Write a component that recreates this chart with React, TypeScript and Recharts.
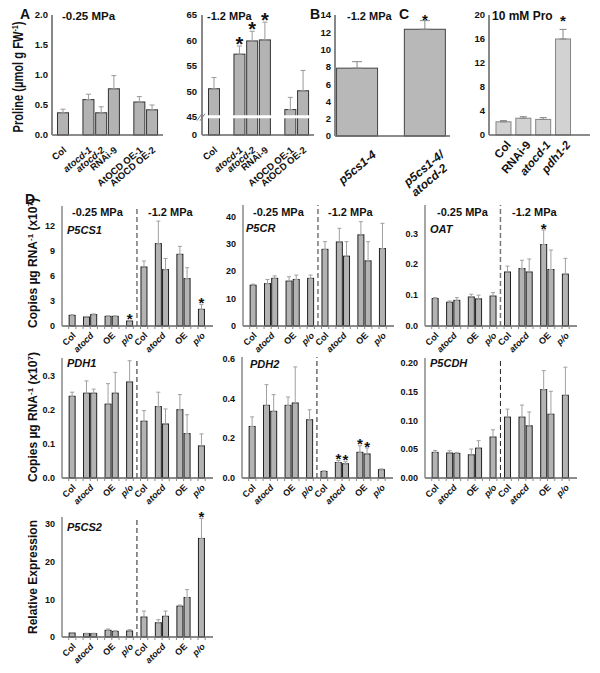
import React from 'react';
import { BarChart, Bar, XAxis, YAxis, ErrorBar, ReferenceLine } from 'recharts';

const FONT = '"Liberation Sans", Arial, Helvetica, sans-serif';

// ---------------- DATA ----------------
// Panel A: proline content (µmol g FW-1)
const aCategories = ['Col', 'atocd-1', 'atocd-2', 'RNAi-9', 'AtOCD OE-1', 'AtOCD OE-2'];
const aItalic = [false, true, true, false, false, false];
const aGapAfter = [0, 3];
const aLowMean = [0.37, 0.59, 0.37, 0.77, 0.55, 0.42];
const aLowErr = [0.06, 0.09, 0.1, 0.22, 0.09, 0.08];
const aLowSig = [false, false, false, false, false, false];
const aLowTicks = [0, 0.5, 1, 1.5, 2];
const aHighMean = [50.5, 57.3, 59.9, 60.1, 46.4, 50.1];
const aHighErr = [2.2, 1.6, 1.9, 3.5, 2.4, 4.0];
const aHighSig = [false, true, true, true, false, false];
const aHighFloor = 41.4; // broken axis: bottom of axis labelled "0"
const aHighTicks = [aHighFloor, 45, 50, 55, 60, 65];

// Panel B
const bCategories = ['p5cs1-4', 'p5cs1-4/\natocd-2'];
const bMean = [7.85, 12.35];
const bErr = [0.75, 1.0];
const bSig = [false, true];
const bTicks = [0, 2, 4, 6, 8, 10, 12, 14];

// Panel C
const cCategories = ['Col', 'RNAi-9', 'atocd-1', 'pdh1-2'];
const cItalic = [false, false, true, true];
const cMean = [2.2, 2.8, 2.6, 16.0];
const cErr = [0.2, 0.25, 0.3, 1.6];
const cSig = [false, false, false, true];
const cTicks = [0, 4, 8, 12, 16, 20];

// Panel D: expression, -0.25 MPa then -1.2 MPa
const dConditions = ['-0.25 MPa', '-1.2 MPa'];
const dGenotypes = ['Col', 'atocd-1', 'atocd-2', 'OE-1', 'OE-2', 'p/o'];
const dTickLabels = ['Col', 'atocd', '', 'OE', '', 'p/o'];
const dTickItalic = [false, true, false, false, false, true];
const dTickShift = [0, 0.5, 0, 0.5, 0, 0];
const dSlotOrder: (number | null)[] = [0, null, 1, 2, null, 3, 4, null, 5];

const p5cs1Mean = [1.28, 1.08, 1.37, 1.16, 1.16, 0.6, 7.08, 9.89, 6.77, 8.6, 5.69, 2.0];
const p5cs1Err = [0.07, 0.07, 0.08, 0.06, 0.04, 0.05, 0.72, 2.7, 1.33, 0.96, 1.31, 0.57];
const p5cs1Sig = [5, 11];

const p5crMean = [14.9, 15.5, 17.4, 16.4, 17.0, 17.4, 28.0, 30.7, 25.5, 33.3, 23.8, 28.3];
const p5crErr = [0.4, 1.5, 0.9, 1.6, 1.6, 1.2, 2.8, 5.0, 5.3, 4.8, 7.0, 9.2];
const p5crSig: number[] = [];

const oatMean = [0.089, 0.077, 0.083, 0.094, 0.088, 0.097, 0.175, 0.186, 0.175, 0.264, 0.183, 0.168];
const oatErr = [0.003, 0.004, 0.009, 0.009, 0.012, 0.011, 0.019, 0.027, 0.042, 0.047, 0.063, 0.051];
const oatSig = [9];

const pdh1Mean = [0.239, 0.248, 0.248, 0.216, 0.248, 0.281, 0.166, 0.209, 0.158, 0.2, 0.13, 0.094];
const pdh1Err = [0.012, 0.036, 0.012, 0.06, 0.061, 0.062, 0.031, 0.042, 0.044, 0.044, 0.055, 0.035];
const pdh1Sig: number[] = [];

const pdh2Mean = [0.259, 0.365, 0.335, 0.365, 0.377, 0.293, 0.033, 0.078, 0.072, 0.129, 0.121, 0.042];
const pdh2Err = [0.048, 0.104, 0.084, 0.042, 0.181, 0.05, 0.003, 0.01, 0.01, 0.033, 0.03, 0.004];
const pdh2Sig = [7, 8, 9, 10];

const p5cdhMean = [0.0446, 0.0435, 0.0428, 0.0405, 0.052, 0.0713, 0.106, 0.106, 0.091, 0.154, 0.111, 0.144];
const p5cdhErr = [0.0034, 0.004, 0.0018, 0.01, 0.013, 0.0127, 0.014, 0.021, 0.024, 0.033, 0.04, 0.049];
const p5cdhSig: number[] = [];

const p5cs2Mean = [1.06, 0.9, 0.9, 1.78, 1.5, 1.6, 5.3, 3.8, 5.5, 8.2, 10.5, 26.2];
const p5cs2Err = [0.15, 0.1, 0.1, 0.35, 0.15, 0.35, 1.6, 0.8, 1.4, 0.3, 2.1, 5.3];
const p5cs2Sig = [11];

// ---------------- TABLE BUILDERS ----------------
type Row = { id: string; label?: string; italic?: boolean; shift?: number; v: number | null; e: [number, number] | null; sig?: boolean };

function buildA(mean: number[], err: number[], sig: boolean[]): Row[] {
  const rows: Row[] = [];
  aCategories.forEach((c, i) => {
    rows.push({ id: c, label: c, italic: aItalic[i], v: mean[i], e: [0, err[i]], sig: sig[i] });
    if (aGapAfter.includes(i)) rows.push({ id: `gap${i}`, v: null, e: null });
  });
  return rows;
}

function buildSimple(cats: string[], mean: number[], err: number[], sig: boolean[], italic: boolean[]): Row[] {
  return cats.map((c, i) => ({ id: c, label: c, italic: italic[i], v: mean[i], e: [0, err[i]] as [number, number], sig: sig[i] }));
}

function buildD(mean: number[], err: number[], sigIdx: number[]): Row[] {
  const rows: Row[] = [];
  dConditions.forEach((cond, c) => {
    if (c > 0) rows.push({ id: 'divider', v: null, e: null });
    dSlotOrder.forEach((g, s) => {
      if (g === null) {
        rows.push({ id: `gap-${c}-${s}`, v: null, e: null });
        return;
      }
      const i = c * dGenotypes.length + g;
      rows.push({
        id: `${cond}|${dGenotypes[g]}`,
        label: dTickLabels[g],
        italic: dTickItalic[g],
        shift: dTickShift[g],
        v: mean[i],
        e: [0, err[i]],
        sig: sigIdx.includes(i),
      });
    });
  });
  return rows;
}

// ---------------- TICKS ----------------
type TickOpts = { dx: number; dy: number; angle: number; size: number; slot?: number; line2dx?: number };

const makeXTick = (data: Row[], o: TickOpts) => (props: any) => {
  const { x, y, payload } = props;
  const row = data.find((r) => r.id === payload.value);
  const els: React.ReactNode[] = [];
  if (o.slot) {
    els.push(<line key="m" x1={x - o.slot / 2} x2={x - o.slot / 2} y1={y} y2={y + 3} stroke="#888" strokeWidth={1} />);
    if (data.length && data[data.length - 1].id === payload.value) {
      els.push(<line key="m2" x1={x + o.slot / 2} x2={x + o.slot / 2} y1={y} y2={y + 3} stroke="#888" strokeWidth={1} />);
    }
  }
  if (row && row.label) {
    const sx = (row.shift || 0) * (o.slot || 0);
    const lines = row.label.split('\n');
    els.push(
      <text
        key="t"
        transform={`translate(${x + sx + o.dx},${y + o.dy}) rotate(${o.angle})`}
        textAnchor="end"
        fontSize={o.size}
        fontWeight="bold"
        fontStyle={row.italic ? 'italic' : 'normal'}
        fontFamily={FONT}
        fill="#111"
      >
        {lines.map((ln, i) => (
          <tspan key={i} x={i ? o.line2dx || 0 : 0} dy={i ? '1.05em' : 0}>
            {ln}
          </tspan>
        ))}
      </text>
    );
  }
  return <g>{els}</g>;
};

const aHighYTick = (props: any) => {
  const { x, y, payload } = props;
  const v = payload.value;
  const label = v < 45 ? '0' : String(v);
  return (
    <g>
      <text x={x} y={y} dy="0.35em" textAnchor="end" fontSize={9.5} fontWeight="bold" fontFamily={FONT} fill="#111">
        {label}
      </text>
      {v === 45 ? (
        <g stroke="#777" strokeWidth={1}>
          <line x1={x + 0} y1={y + 4} x2={x + 5} y2={y - 3} />
          <line x1={x + 3} y1={y + 4} x2={x + 8} y2={y - 3} />
        </g>
      ) : null}
    </g>
  );
};

// ---------------- PANEL ----------------
type PanelProps = {
  rect: [number, number, number, number];
  data: Row[];
  domain: [number, number];
  ticks: number[];
  yFmt?: (v: number) => string;
  yTick?: any;
  ySize?: number;
  yMargin?: number;
  xTick: any;
  xPad: [number, number];
  gap: string;
  fill: string;
  stroke: string;
  errStroke: string;
  errHalf: number;
  starSize: number;
  starDy: number;
  yAxisStroke?: string;
  yAxisWidth?: number;
  children?: React.ReactNode;
};

function Panel(p: PanelProps) {
  const [x0, y0, x1, y1] = p.rect;
  const YW = 50;
  const TOP = 12;
  const RIGHT = 30;
  const XH = 70;
  const base = p.domain[0];
  const shape = (props: any) => {
    const { x, y, width, height, payload } = props;
    if (!payload || payload.v == null || !(height > 0)) return <g />;
    const ratio = height / (payload.v - base);
    const errTop = y - (payload.e ? payload.e[1] : 0) * ratio;
    return (
      <g>
        <rect x={x} y={y} width={width} height={height} fill={p.fill} stroke={p.stroke} strokeWidth={1} />
        {payload.sig ? (
          <text x={x + width / 2} y={errTop + p.starDy} textAnchor="middle" fontSize={p.starSize} fontWeight="bold" fontFamily={FONT} fill="#111">
            *
          </text>
        ) : null}
      </g>
    );
  };
  return (
    <div style={{ position: 'absolute', left: x0 - YW, top: y0 - TOP }}>
      <BarChart
        width={x1 - x0 + YW + RIGHT}
        height={y1 - y0 + TOP + XH}
        data={p.data}
        margin={{ top: TOP, right: RIGHT, bottom: 0, left: 0 }}
        barCategoryGap={p.gap}
        style={{ overflow: 'visible' }}
      >
        <XAxis
          dataKey="id"
          height={XH}
          interval={0}
          tick={p.xTick}
          tickLine={false}
          tickSize={0}
          tickMargin={0}
          axisLine={{ stroke: '#666', strokeWidth: 1.5 }}
          padding={{ left: p.xPad[0], right: p.xPad[1] }}
        />
        <YAxis
          type="number"
          width={YW}
          domain={p.domain}
          ticks={p.ticks}
          interval={0}
          tickLine={false}
          tickSize={0}
          tickMargin={p.yMargin ?? 6}
          tick={p.yTick || { fontSize: p.ySize || 9, fontWeight: 'bold', fill: '#111', fontFamily: FONT }}
          tickFormatter={p.yFmt}
          axisLine={{ stroke: p.yAxisStroke || '#888', strokeWidth: p.yAxisWidth || 1.5 }}
        />
        <Bar dataKey="v" isAnimationActive={false} shape={shape}>
          <ErrorBar dataKey="e" direction="y" width={p.errHalf} stroke={p.errStroke} strokeWidth={1} />
        </Bar>
        {p.children}
      </BarChart>
    </div>
  );
}

// ---------------- D PANELS ----------------
const D_SLOT = 7.18;
const dTick = (data: Row[]) => makeXTick(data, { dx: 4, dy: 10, angle: -45, size: 9, slot: D_SLOT });

type DCfg = { name: string; rect: [number, number, number, number]; domain: [number, number]; ticks: number[]; fmt?: (v: number) => string; data: Row[]; dash: string; dashW: number };

const dPanels: DCfg[] = [
  { name: 'P5CS1', rect: [62, 206, 213, 326], domain: [0, 14.4], ticks: [0, 3, 6, 9, 12], data: buildD(p5cs1Mean, p5cs1Err, p5cs1Sig), dash: '#777', dashW: 1.5 },
  { name: 'P5CR', rect: [243, 205, 394, 326], domain: [0, 44.2], ticks: [0, 10, 20, 30, 40], data: buildD(p5crMean, p5crErr, p5crSig), dash: '#777', dashW: 1.5 },
  { name: 'OAT', rect: [425, 205, 577, 326], domain: [0, 0.392], ticks: [0, 0.1, 0.2, 0.3], fmt: (v) => v.toFixed(1), data: buildD(oatMean, oatErr, oatSig), dash: '#777', dashW: 1.5 },
  { name: 'PDH1', rect: [62, 358, 213, 478], domain: [0, 0.351], ticks: [0, 0.1, 0.2, 0.3], fmt: (v) => v.toFixed(1), data: buildD(pdh1Mean, pdh1Err, pdh1Sig), dash: '#222', dashW: 1 },
  { name: 'PDH2', rect: [242, 357, 393, 478], domain: [0, 0.608], ticks: [0, 0.2, 0.4, 0.6], fmt: (v) => v.toFixed(1), data: buildD(pdh2Mean, pdh2Err, pdh2Sig), dash: '#222', dashW: 1 },
  { name: 'P5CDH', rect: [425, 358, 577, 478], domain: [0, 0.209], ticks: [0, 0.05, 0.1, 0.15, 0.2], fmt: (v) => v.toFixed(2), data: buildD(p5cdhMean, p5cdhErr, p5cdhSig), dash: '#222', dashW: 1 },
  { name: 'P5CS2', rect: [62, 517, 213, 637], domain: [0, 31.9], ticks: [0, 10, 20, 30], data: buildD(p5cs2Mean, p5cs2Err, p5cs2Sig), dash: '#222', dashW: 1 },
];

const geneLabelPos: Record<string, [number, number]> = {
  P5CS1: [67, 233.5],
  P5CR: [246, 232],
  OAT: [430, 232.5],
  PDH1: [67, 367],
  PDH2: [250, 368],
  P5CDH: [430, 366.5],
  P5CS2: [67, 531],
};

// ---------------- OVERLAY TEXT ----------------
function Overlay() {
  const copies = (cx: number, cy: number) => (
    <text transform={`translate(${cx},${cy}) rotate(-90)`} textAnchor="middle" fontSize={12}>
      Copies µg RNA
      <tspan dy={-4} fontSize={8}>-1</tspan>
      <tspan dy={4}> (x10</tspan>
      <tspan dy={-4} fontSize={8}>7</tspan>
      <tspan dy={4}>)</tspan>
    </text>
  );
  return (
    <svg width={600} height={673} style={{ position: 'absolute', left: 0, top: 0, pointerEvents: 'none' }} fontFamily={FONT} fontWeight="bold" fill="#111">
      {/* panel letters */}
      <text x={20} y={18.5} fontSize={14}>A</text>
      <text x={310} y={18.5} fontSize={14}>B</text>
      <text x={399} y={18.5} fontSize={14}>C</text>
      <text x={25} y={204} fontSize={14}>D</text>
      {/* titles */}
      <text x={62} y={19.5} fontSize={11.5}>-0.25 MPa</text>
      <text x={207} y={19.5} fontSize={11}>-1.2 MPa</text>
      <text x={347} y={19.5} fontSize={11}>-1.2 MPa</text>
      <text x={492} y={19.5} fontSize={12}>10 mM Pro</text>
      {/* proline label */}
      <text transform="translate(23,77) rotate(-90)" textAnchor="middle" fontSize={14} textLength={111} lengthAdjust="spacingAndGlyphs">
        Proline  (µmol g FW
        <tspan dy={-5} fontSize={9}>-1</tspan>
        <tspan dy={5}>)</tspan>
      </text>
      {/* D condition titles */}
      {[[72, 148], [253, 328], [437, 512]].map((xs, i) =>
        xs.map((x, j) => (
          <text key={`${i}-${j}`} x={x} y={216} fontSize={11}>
            {dConditions[j]}
          </text>
        ))
      )}
      {/* gene names */}
      {dPanels.map((d) => (
        <text key={d.name} x={geneLabelPos[d.name][0]} y={geneLabelPos[d.name][1]} fontSize={11} fontStyle="italic">
          {d.name}
        </text>
      ))}
      {copies(37, 263)}
      {copies(37, 417)}
      <text transform="translate(37,577) rotate(-90)" textAnchor="middle" fontSize={12}>
        Relative Expression
      </text>
    </svg>
  );
}

// ---------------- APP ----------------
export default function App() {
  const aLowData = buildA(aLowMean, aLowErr, aLowSig);
  const aHighData = buildA(aHighMean, aHighErr, aHighSig);
  const bData = buildSimple(bCategories, bMean, bErr, bSig, [true, true]);
  const cData = buildSimple(cCategories, cMean, cErr, cSig, cItalic);
  const grey = '#b3b3b3';
  return (
    <div style={{ position: 'absolute', left: 0, top: 0, width: 600, height: 673, background: '#fff', fontFamily: FONT }}>
      <Panel
        rect={[52, 15, 163, 135]}
        data={aLowData}
        domain={[0, 2]}
        ticks={aLowTicks}
        yFmt={(v) => v.toFixed(1)}
        ySize={9.5}
        yMargin={4}
        xTick={makeXTick(aLowData, { dx: 4, dy: 16, angle: -40, size: 9.5 })}
        xPad={[4.6, 4.6]}
        gap="7%"
        fill={grey}
        stroke="#333"
        errStroke="#999"
        errHalf={2.5}
        starSize={20}
        starDy={5}
        yAxisWidth={2}
      />
      <Panel
        rect={[202, 15, 314, 135]}
        data={aHighData}
        domain={[aHighFloor, 65]}
        ticks={aHighTicks}
        yTick={aHighYTick}
        yMargin={5}
        xTick={makeXTick(aHighData, { dx: 4, dy: 16, angle: -40, size: 9.5 })}
        xPad={[5.6, 4.6]}
        gap="7%"
        fill={grey}
        stroke="#333"
        errStroke="#999"
        errHalf={2.5}
        starSize={20}
        starDy={5}
        yAxisWidth={2}
      >
        <ReferenceLine y={45} stroke="#fff" strokeWidth={3} />
      </Panel>
      <Panel
        rect={[335, 15, 450, 136]}
        data={bData}
        domain={[0, 14]}
        ticks={bTicks}
        ySize={9.5}
        yMargin={4}
        xTick={makeXTick(bData, { dx: 20, dy: 20, angle: -40, size: 12, line2dx: -6 })}
        xPad={[-12, -8.6]}
        gap="20%"
        fill="#b8b8b8"
        stroke="#444"
        errStroke="#888"
        errHalf={5}
        starSize={15}
        starDy={4}
        yAxisWidth={2}
      />
      <Panel
        rect={[489, 15, 590, 135]}
        data={cData}
        domain={[0, 20]}
        ticks={cTicks}
        ySize={9.5}
        yMargin={4}
        xTick={makeXTick(cData, { dx: 8, dy: 10, angle: -50, size: 11.5 })}
        xPad={[4.6, 17]}
        gap="12%"
        fill="#d2d2d2"
        stroke="#858585"
        errStroke="#888"
        errHalf={3.5}
        starSize={15}
        starDy={-3}
        yAxisWidth={2}
      />
      {dPanels.map((d) => (
        <Panel
          key={d.name}
          rect={d.rect}
          data={d.data}
          domain={d.domain}
          ticks={d.ticks}
          yFmt={d.fmt}
          ySize={9}
          yMargin={7}
          xTick={dTick(d.data)}
          xPad={[6.7, 7.8]}
          gap="6%"
          fill={grey}
          stroke="#222"
          errStroke="#a0a0a0"
          errHalf={2}
          starSize={15}
          starDy={3.6}
        >
          <ReferenceLine x="divider" stroke={d.dash} strokeWidth={d.dashW} strokeDasharray="5 3" />
        </Panel>
      ))}
      <Overlay />
    </div>
  );
}
